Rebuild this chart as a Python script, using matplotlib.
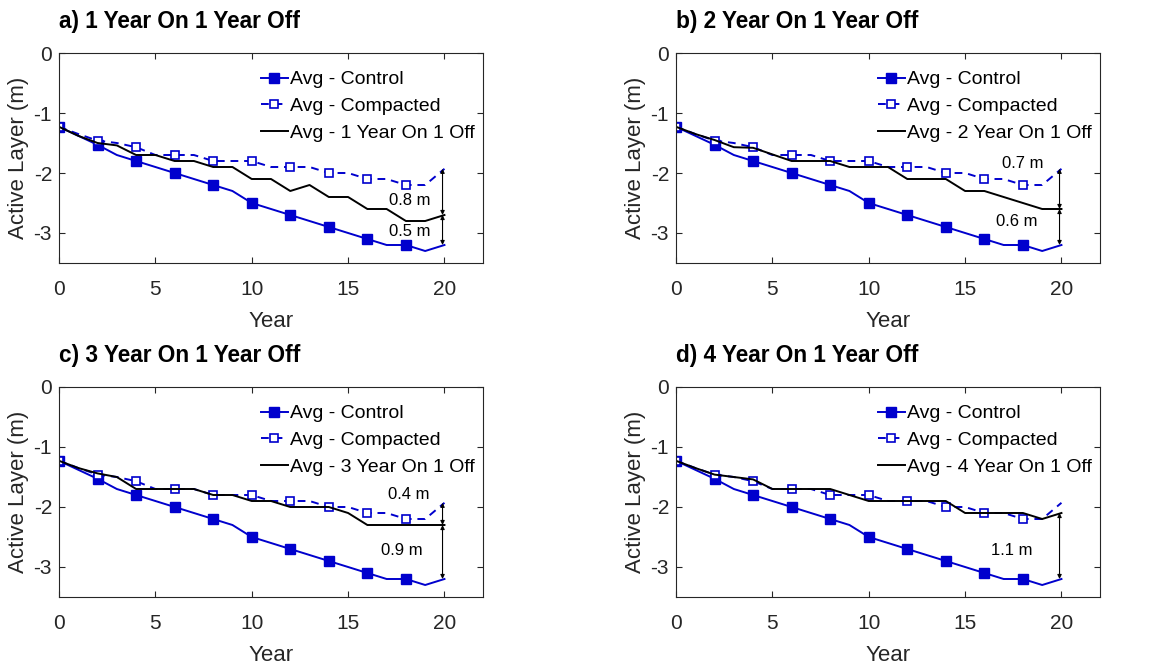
import matplotlib
matplotlib.use("Agg")
import matplotlib.pyplot as plt

plt.rcParams['font.family'] = ['Liberation Sans', 'DejaVu Sans']
plt.rcParams['axes.unicode_minus'] = False

years = list(range(0, 21))

control = [-1.23, -1.38, -1.53, -1.70, -1.80, -1.90, -2.00, -2.10, -2.20, -2.30,
           -2.50, -2.60, -2.70, -2.80, -2.90, -3.00, -3.10, -3.20, -3.20, -3.30, -3.20]
compacted = [-1.23, -1.35, -1.46, -1.50, -1.57, -1.70, -1.70, -1.70, -1.80, -1.80,
             -1.80, -1.90, -1.90, -1.90, -2.00, -2.00, -2.10, -2.10, -2.20, -2.20, -1.93]

rotation_1on1off = [-1.23, -1.38, -1.50, -1.54, -1.70, -1.70, -1.80, -1.80, -1.90, -1.90,
                    -2.10, -2.10, -2.30, -2.20, -2.40, -2.40, -2.60, -2.60, -2.80, -2.80, -2.70]
rotation_2on1off = [-1.23, -1.35, -1.45, -1.57, -1.58, -1.69, -1.80, -1.80, -1.80, -1.90,
                    -1.90, -1.90, -2.10, -2.10, -2.10, -2.30, -2.30, -2.40, -2.50, -2.60, -2.60]
rotation_3on1off = [-1.23, -1.35, -1.44, -1.50, -1.70, -1.70, -1.70, -1.70, -1.80, -1.80,
                    -1.90, -1.90, -2.00, -2.00, -2.00, -2.10, -2.30, -2.30, -2.30, -2.30, -2.30]
rotation_4on1off = [-1.23, -1.35, -1.46, -1.50, -1.54, -1.70, -1.70, -1.70, -1.70, -1.80,
                    -1.90, -1.90, -1.90, -1.90, -1.90, -2.10, -2.10, -2.10, -2.10, -2.20, -2.10]

titles = ["a) 1 Year On 1 Year Off", "b) 2 Year On 1 Year Off",
          "c) 3 Year On 1 Year Off", "d) 4 Year On 1 Year Off"]
rotation_labels = ["Avg - 1 Year On 1 Off", "Avg - 2 Year On 1 Off",
                   "Avg - 3 Year On 1 Off", "Avg - 4 Year On 1 Off"]
rotations = [rotation_1on1off, rotation_2on1off, rotation_3on1off, rotation_4on1off]

# difference labels: (text, label x, label y, from series, to series)
gap_labels = [
    [("0.8 m", 18.2, -2.46, "compacted", "rotation"), ("0.5 m", 18.2, -2.98, "rotation", "control")],
    [("0.7 m", 18.0, -1.84, "compacted", "rotation"), ("0.6 m", 17.7, -2.80, "rotation", "control")],
    [("0.4 m", 18.15, -1.79, "compacted", "rotation"), ("0.9 m", 17.8, -2.72, "rotation", "control")],
    [("1.1 m", 17.4, -2.72, "rotation", "control")],
]

blue = '#0000CD'
axcol = '#262626'
marker_years = list(range(0, 20, 2))

fig = plt.figure(figsize=(11.55, 6.64), dpi=100)
W, H = 1155, 664
lefts = [59, 676, 59, 676]
tops = [53, 53, 387, 387]
aw, ah = 424, 210

for i in range(4):
    ax = fig.add_axes([lefts[i] / W, 1 - (tops[i] + ah) / H, aw / W, ah / H])
    rot = rotations[i]
    ax.plot(years, control, '-', color=blue, lw=1.4, marker='s', markersize=6.8,
            markevery=marker_years, markerfacecolor=blue, markeredgecolor=blue,
            label='Avg - Control')
    ax.plot(years, compacted, '--', dashes=(4, 3), color=blue, lw=1.4, marker='s',
            markersize=5.2, markevery=marker_years, markerfacecolor='white',
            markeredgecolor=blue, markeredgewidth=1.2, label='Avg - Compacted')
    ax.plot(years, rot, '-', color='black', lw=1.4, label=rotation_labels[i])

    series = {"control": control[-1], "compacted": compacted[-1], "rotation": rot[-1]}
    for txt, tx, ty, a, b in gap_labels[i]:
        ax.annotate('', xy=(19.9, series[b]), xytext=(19.9, series[a]),
                    arrowprops=dict(arrowstyle='<|-|>', lw=0.8, color='black',
                                    shrinkA=0, shrinkB=0, mutation_scale=6))
        ax.text(tx, ty, txt, fontsize=12, ha='center', va='center', color='black')

    ax.set_xlim(0, 22)
    ax.set_ylim(-3.5, 0)
    ax.set_xticks([0, 5, 10, 15, 20])
    ax.set_yticks([-3, -2, -1, 0])
    ax.tick_params(direction='in', top=True, right=True, length=4, width=0.8,
                   labelsize=15, colors=axcol)
    ax.tick_params(axis='x', pad=12)
    ax.tick_params(axis='y', pad=5)
    for s in ax.spines.values():
        s.set_color(axcol)
        s.set_linewidth(0.8)
    ax.set_xlabel('Year', fontsize=16, color=axcol, labelpad=9)
    ax.set_ylabel('Active Layer (m)', fontsize=16, color=axcol, labelpad=3)
    ax.set_title(titles[i], loc='left', fontsize=16.3, fontweight='bold', pad=18)
    ax.legend(loc='upper left', bbox_to_anchor=(0.453, 0.962), frameon=False, fontsize=14,
              handlelength=1.4, handletextpad=0.1, labelspacing=0.48, borderpad=0.3,
              borderaxespad=0.2)

fig.savefig('out.png', dpi=100)
